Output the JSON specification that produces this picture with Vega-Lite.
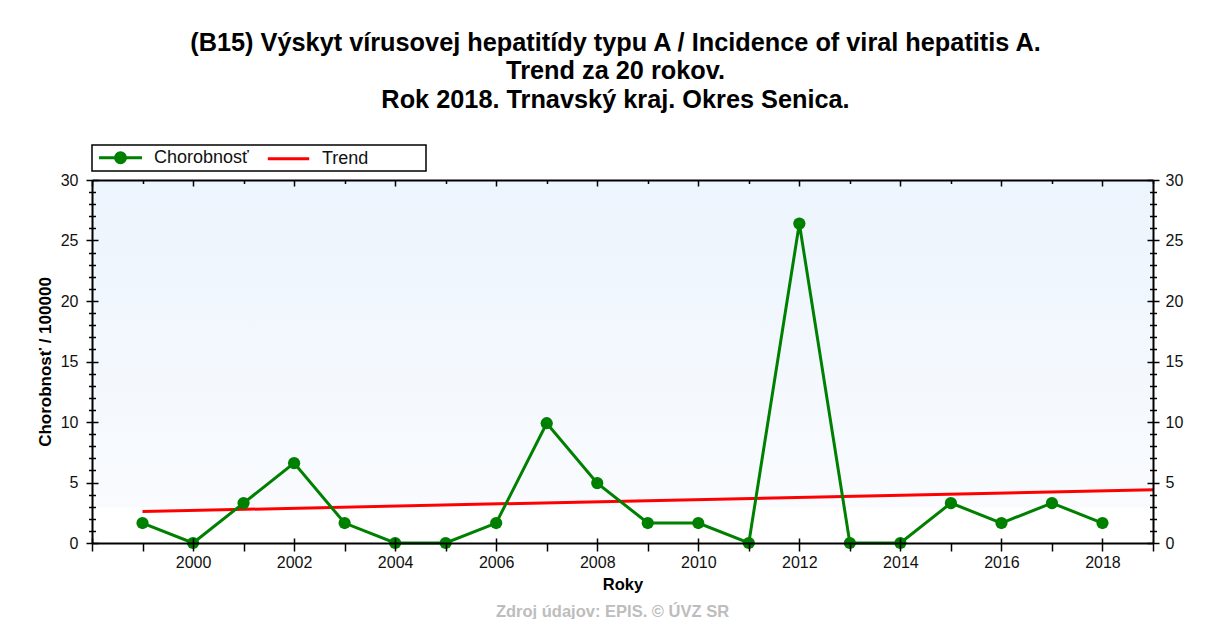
{
  "$schema": "https://vega.github.io/schema/vega-lite/v6.json",
  "width": 1061,
  "height": 363,
  "autosize": {"type": "none"},
  "padding": {"left": 92, "top": 180, "right": 55, "bottom": 76},
  "background": "#ffffff",
  "config": {"view": {"stroke": null}, "font": "Liberation Sans"},
  "title": {
    "text": ["(B15) Výskyt vírusovej hepatitídy typu A / Incidence of viral hepatitis A.", "Trend za 20 rokov.", "Rok 2018. Trnavský kraj. Okres Senica."],
    "fontSize": 25.3,
    "fontWeight": "bold",
    "font": "Liberation Sans",
    "color": "#000000",
    "lineHeight": 28.5,
    "anchor": "middle",
    "dx": -7,
    "offset": 31
  },
  "data": {
    "values": [
      {"rok": 1999, "hodnota": 1.65, "seria": "Chorobnosť"},
      {"rok": 2000, "hodnota": 0, "seria": "Chorobnosť"},
      {"rok": 2001, "hodnota": 3.3, "seria": "Chorobnosť"},
      {"rok": 2002, "hodnota": 6.6, "seria": "Chorobnosť"},
      {"rok": 2003, "hodnota": 1.65, "seria": "Chorobnosť"},
      {"rok": 2004, "hodnota": 0, "seria": "Chorobnosť"},
      {"rok": 2005, "hodnota": 0, "seria": "Chorobnosť"},
      {"rok": 2006, "hodnota": 1.65, "seria": "Chorobnosť"},
      {"rok": 2007, "hodnota": 9.9, "seria": "Chorobnosť"},
      {"rok": 2008, "hodnota": 4.95, "seria": "Chorobnosť"},
      {"rok": 2009, "hodnota": 1.65, "seria": "Chorobnosť"},
      {"rok": 2010, "hodnota": 1.65, "seria": "Chorobnosť"},
      {"rok": 2011, "hodnota": 0, "seria": "Chorobnosť"},
      {"rok": 2012, "hodnota": 26.4, "seria": "Chorobnosť"},
      {"rok": 2013, "hodnota": 0, "seria": "Chorobnosť"},
      {"rok": 2014, "hodnota": 0, "seria": "Chorobnosť"},
      {"rok": 2015, "hodnota": 3.3, "seria": "Chorobnosť"},
      {"rok": 2016, "hodnota": 1.65, "seria": "Chorobnosť"},
      {"rok": 2017, "hodnota": 3.3, "seria": "Chorobnosť"},
      {"rok": 2018, "hodnota": 1.65, "seria": "Chorobnosť"},
      {"rok": 1999, "hodnota": 2.6, "seria": "Trend"},
      {"rok": 2019, "hodnota": 4.4, "seria": "Trend"}
    ]
  },
  "resolve": {"axis": {"x": "independent", "y": "independent"}},
  "layer": [
    {
      "data": {"values": [{"plocha": "pozadie"}]},
      "mark": {
        "type": "rect",
        "fill": {
          "gradient": "linear",
          "x1": 0, "y1": 0, "x2": 0, "y2": 1,
          "stops": [
            {"offset": 0, "color": "#ECF4FD"},
            {"offset": 0.9, "color": "#F9FBFE"},
            {"offset": 0.905, "color": "#FFFFFF"},
            {"offset": 1, "color": "#FFFFFF"}
          ]
        }
      },
      "encoding": {
        "x": {
          "datum": 1998,
          "type": "quantitative",
          "scale": {"domain": [1998, 2019], "nice": false, "zero": false},
          "axis": {
            "orient": "bottom",
            "zindex": 1,
            "values": [1998, 1999, 2000, 2001, 2002, 2003, 2004, 2005, 2006, 2007, 2008, 2009, 2010, 2011, 2012, 2013, 2014, 2015, 2016, 2017, 2018, 2019],
            "labelExpr": "(datum.value % 2 === 0 && datum.value >= 2000 && datum.value <= 2018) ? datum.value + '' : ''",
            "labelFlush": false,
            "labelOverlap": false,
            "labelFontSize": 16,
            "labelColor": "#111111",
            "labelPadding": 3,
            "tickSize": 8,
            "tickColor": "#000000",
            "tickWidth": 1.5,
            "domainColor": "#000000",
            "domainWidth": 2,
            "grid": false,
            "title": "Roky",
            "titleFontSize": 16.5,
            "titleFontWeight": "bold",
            "titleColor": "#000000",
            "titlePadding": 6
          }
        },
        "x2": {"datum": 2019},
        "y": {
          "datum": 0,
          "type": "quantitative",
          "scale": {"domain": [0, 30], "nice": false},
          "axis": {
            "orient": "left",
            "zindex": 1,
            "values": [0, 1, 2, 3, 4, 5, 6, 7, 8, 9, 10, 11, 12, 13, 14, 15, 16, 17, 18, 19, 20, 21, 22, 23, 24, 25, 26, 27, 28, 29, 30],
            "labelExpr": "datum.value % 5 === 0 ? datum.value + '' : ''",
            "labelOverlap": false,
            "labelFlush": false,
            "labelFontSize": 16,
            "labelColor": "#111111",
            "labelPadding": 8,
            "tickSize": {"condition": {"test": "datum.value % 5 === 0", "value": 6}, "value": 3.5},
            "tickColor": "#000000",
            "tickWidth": 1.5,
            "domainColor": "#000000",
            "domainWidth": 2,
            "grid": false,
            "title": "Chorobnosť / 100000",
            "titleFontSize": 17,
            "titleFontWeight": "bold",
            "titleColor": "#000000",
            "titlePadding": 6
          }
        },
        "y2": {"datum": 30}
      }
    },
    {
      "transform": [{"filter": "datum.seria === 'Trend'"}],
      "mark": {"type": "line", "strokeWidth": 3},
      "encoding": {
        "x": {
          "field": "rok",
          "type": "quantitative",
          "axis": {
            "orient": "top",
            "zindex": 1,
            "values": [1998, 1999, 2000, 2001, 2002, 2003, 2004, 2005, 2006, 2007, 2008, 2009, 2010, 2011, 2012, 2013, 2014, 2015, 2016, 2017, 2018, 2019],
            "labels": false,
            "tickSize": {"condition": {"test": "datum.value % 2 === 0", "value": -6}, "value": -3.5},
            "tickColor": "#000000",
            "tickWidth": 1.5,
            "domainColor": "#000000",
            "domainWidth": 2,
            "grid": false,
            "title": null
          }
        },
        "y": {
          "field": "hodnota",
          "type": "quantitative",
          "axis": {
            "orient": "right",
            "zindex": 1,
            "values": [0, 1, 2, 3, 4, 5, 6, 7, 8, 9, 10, 11, 12, 13, 14, 15, 16, 17, 18, 19, 20, 21, 22, 23, 24, 25, 26, 27, 28, 29, 30],
            "labelExpr": "datum.value % 5 === 0 ? datum.value + '' : ''",
            "labelOverlap": false,
            "labelFlush": false,
            "labelFontSize": 16,
            "labelColor": "#111111",
            "labelPadding": 6,
            "tickSize": {"condition": {"test": "datum.value % 5 === 0", "value": 6}, "value": 3.5},
            "tickColor": "#000000",
            "tickWidth": 1.5,
            "domainColor": "#000000",
            "domainWidth": 2,
            "grid": false,
            "title": null
          }
        },
        "color": {
          "field": "seria",
          "type": "nominal",
          "scale": {"domain": ["Chorobnosť", "Trend"], "range": ["#008000", "#FF0000"]}
        }
      }
    },
    {
      "transform": [{"filter": "datum.seria === 'Chorobnosť'"}],
      "mark": {"type": "line", "strokeWidth": 3},
      "encoding": {
        "x": {
          "field": "rok",
          "type": "quantitative",
          "axis": {
            "orient": "bottom",
            "zindex": 1,
            "values": [1998, 2000, 2002, 2004, 2006, 2008, 2010, 2012, 2014, 2016, 2018],
            "labels": false,
            "domain": false,
            "tickSize": -5,
            "tickColor": "#000000",
            "tickWidth": 1.5,
            "grid": false,
            "title": null
          }
        },
        "y": {
          "field": "hodnota",
          "type": "quantitative",
          "axis": {
            "orient": "left",
            "zindex": 1,
            "values": [0, 1, 2, 3, 4, 5, 6, 7, 8, 9, 10, 11, 12, 13, 14, 15, 16, 17, 18, 19, 20, 21, 22, 23, 24, 25, 26, 27, 28, 29, 30],
            "labels": false,
            "domain": false,
            "tickSize": {"condition": {"test": "datum.value % 5 === 0", "value": -6}, "value": -3.5},
            "tickColor": "#000000",
            "tickWidth": 1.5,
            "grid": false,
            "title": null
          }
        },
        "color": {
          "field": "seria",
          "type": "nominal",
          "legend": {
            "orient": "none",
            "legendX": 0,
            "legendY": -35,
            "direction": "horizontal",
            "title": null,
            "strokeColor": "#000000",
            "fillColor": "#FFFFFF",
            "padding": 2,
            "labelFont": "Liberation Sans",
            "labelFontSize": 18,
            "labelColor": "#111111",
            "labelOffset": 23,
            "symbolOffset": 16,
            "columnPadding": 12,
            "symbolSize": 324,
            "symbolStrokeWidth": 3,
            "labelExpr": "datum.label === 'Trend' ? 'Trend\u00a0\u00a0\u00a0\u00a0\u00a0\u00a0\u00a0\u00a0\u00a0\u00a0\u00a0\u200b' : datum.label",
            "encode": {
              "legend": {"update": {"strokeWidth": {"value": 1.5}}},
              "symbols": {
                "update": {
                  "shape": {"signal": "datum.value === 'Chorobnosť' ? 'M-2.39,0H2.39M-0.556,0A0.556,0.556,0,1,1,0.556,0A0.556,0.556,0,1,1,-0.556,0Z' : 'M-2.3,0H2.3'"},
                  "fill": {"signal": "datum.value === 'Chorobnosť' ? '#008000' : 'transparent'"},
                  "stroke": {"signal": "datum.value === 'Chorobnosť' ? '#008000' : '#FF0000'"},
                  "strokeWidth": {"value": 3},
                  "opacity": {"value": 1}
                }
              }
            }
          }
        }
      }
    },
    {
      "transform": [{"filter": "datum.seria === 'Chorobnosť'"}],
      "mark": {"type": "point", "filled": true, "size": 150, "opacity": 1},
      "encoding": {
        "x": {
          "field": "rok",
          "type": "quantitative",
          "axis": {
            "orient": "bottom",
            "zindex": 1,
            "labels": false,
            "ticks": false,
            "domain": false,
            "grid": false,
            "title": "Zdroj údajov: EPIS. © ÚVZ SR",
            "titleX": 520,
            "titleFontSize": 16.5,
            "titleFontWeight": "bold",
            "titleColor": "#BDBDBD",
            "titlePadding": 60
          }
        },
        "y": {
          "field": "hodnota",
          "type": "quantitative",
          "axis": {
            "orient": "right",
            "zindex": 1,
            "values": [0, 1, 2, 3, 4, 5, 6, 7, 8, 9, 10, 11, 12, 13, 14, 15, 16, 17, 18, 19, 20, 21, 22, 23, 24, 25, 26, 27, 28, 29, 30],
            "labels": false,
            "domain": false,
            "tickSize": {"condition": {"test": "datum.value % 5 === 0", "value": -6}, "value": -3.5},
            "tickColor": "#000000",
            "tickWidth": 1.5,
            "grid": false,
            "title": null
          }
        },
        "color": {"field": "seria", "type": "nominal"}
      }
    }
  ]
}
